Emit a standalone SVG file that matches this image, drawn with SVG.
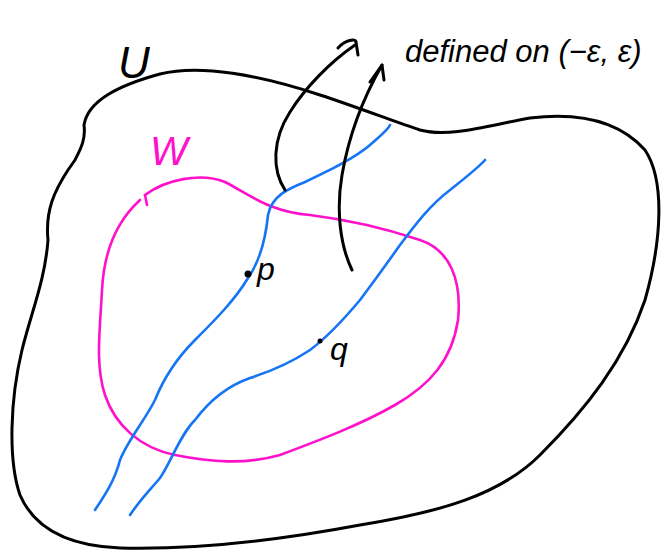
<svg xmlns="http://www.w3.org/2000/svg" width="669" height="552" viewBox="0 0 669 552">
<style>
.ink{fill:none;stroke:#000;stroke-width:3;stroke-linecap:round;stroke-linejoin:round}
.pink{fill:none;stroke:#ff11cc;stroke-width:2.6;stroke-linecap:round;stroke-linejoin:round}
.blue{fill:none;stroke:#1575f5;stroke-width:2.6;stroke-linecap:round;stroke-linejoin:round}
.hand{font-family:"Liberation Sans",sans-serif;font-style:italic}
</style>
<rect width="669" height="552" fill="#fff"/>
<g id="U">
<path class="ink" d="M75,160 C80,150 86,140 84,125 C88,100 120,85 160,74 C200,64 260,75 320,95 C360,108 395,122 420,130 C450,138 490,125 530,118 C580,112 620,122 645,150 C665,180 662,240 645,300 C625,360 585,410 540,455 C500,495 440,512 360,525 C280,540 200,550 120,548 C70,546 35,530 20,495 C8,460 10,400 22,350 C32,310 45,280 48,240 C45,210 55,190 68,170 Z"/>
<text class="hand" x="118" y="78" font-size="44">U</text>
</g>
<g id="W">
<path class="pink" d="M145,195 C165,180 200,172 225,182 C250,195 270,212 310,215 C350,220 390,230 420,240 C450,250 462,280 458,320 C452,360 430,385 395,405 C360,425 320,440 280,455 C245,465 210,462 175,455 C140,448 115,425 105,395 C95,365 100,330 102,290 C104,250 118,220 140,200"/>
<path class="pink" d="M145,195 L147,205"/>
<text class="hand" x="150" y="165" font-size="40" fill="#ff11cc">W</text>
</g>
<g id="connectors">
<path class="blue" d="M95,510 C105,495 115,480 120,460 C128,440 145,420 155,400 C165,375 180,355 195,340 C215,320 235,300 248,278 C262,258 266,235 268,215 C272,195 290,188 305,182 C330,170 355,158 370,145 C380,136 388,130 390,125"/>
<path class="blue" d="M130,515 C140,500 150,490 160,478 C172,460 180,435 195,420 C210,400 230,385 250,378 C275,370 295,360 310,350 C330,335 345,318 360,300 C375,280 388,262 400,245 C415,225 430,205 450,190 C465,178 478,168 485,160"/>
<path class="ink" d="M285,190 C272,170 272,140 290,112 C305,88 330,62 355,45"/>
<path class="ink" d="M338,48 C345,40 356,38 356,42 L358,55"/>
<path class="ink" d="M352,270 C340,245 336,210 342,175 C348,140 362,100 382,65"/>
<path class="ink" d="M370,82 L382,65 L384,80"/>
<text class="hand" x="405" y="62" font-size="31">defined on (−ε, ε)</text>
</g>
<g id="p">
<circle cx="248" cy="274" r="3.5" fill="#000"/>
<text class="hand" x="257" y="280" font-size="32">p</text>
</g>
<g id="q">
<circle cx="320" cy="341" r="2.5" fill="#000"/>
<text class="hand" x="330" y="360" font-size="32">q</text>
</g>
</svg>
